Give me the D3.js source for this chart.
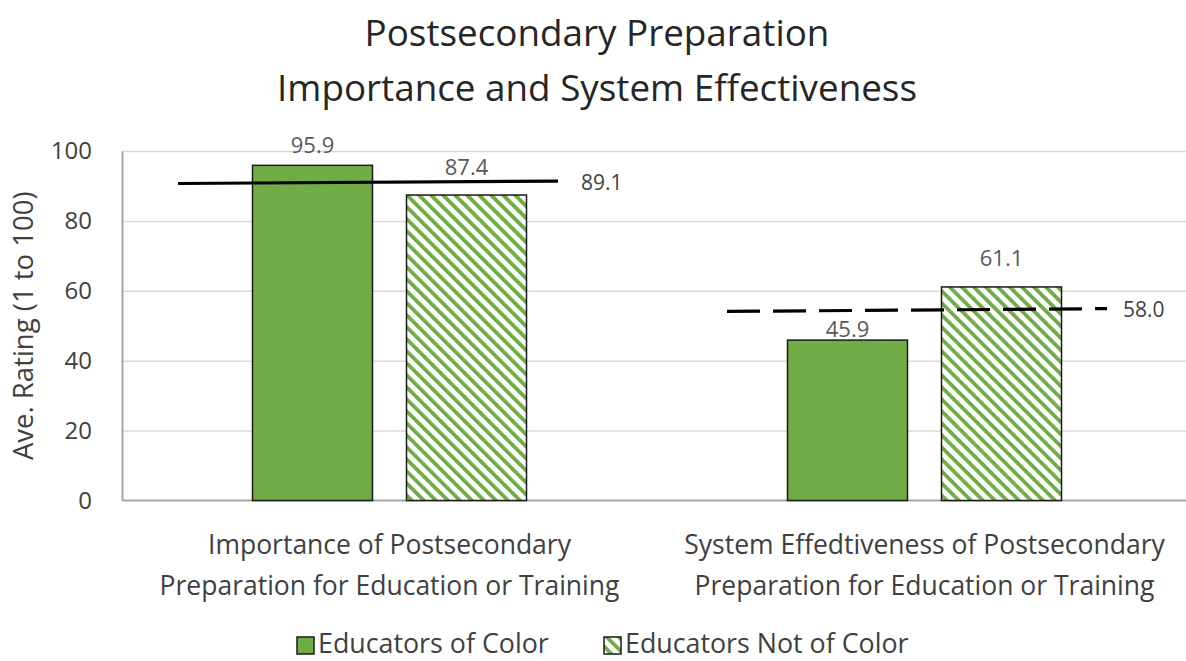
<!DOCTYPE html>
<html>
<head>
<meta charset="utf-8">
<script src="https://cdnjs.cloudflare.com/ajax/libs/d3/7.8.5/d3.min.js"></script>
<style>
  body { margin: 0; background: #fff; }
  svg { display: block; font-family: "Open Sans", sans-serif; }
</style>
</head>
<body>
<svg id="chart" width="1186" height="661"></svg>
<script>
// data
const categories = [
  'Importance of Postsecondary\nPreparation for Education or Training',
  'System Effedtiveness of Postsecondary\nPreparation for Education or Training'
]
const series = ['Educators of Color', 'Educators Not of Color']
const colorValues = [95.9, 45.9]
const notColorValues = [87.4, 61.1]
// overall line: label value, and where the line sits at its two ends
const overallLabels = [89.1, 58.0]
const overallStart = [90.7, 54.1]
const overallEnd = [91.4, 54.9]
const yTicks = [0, 20, 40, 60, 80, 100]

const svg = d3.select('#chart')
const plotLeft = 122, plotRight = 1192, plotTop = 151, plotBottom = 500.5
const green = '#70ad47'

const x = d3.scaleBand().domain(categories).range([plotLeft, plotRight]).padding(0)
const inner = d3.scaleBand().domain(series).range([-137, 137]).paddingInner(34 / 154)
const y = d3.scaleLinear().domain([0, 100]).range([plotBottom, plotTop])

// hatch pattern
const defs = svg.append('defs')
const pat = defs.append('pattern').attr('id', 'hatch')
  .attr('patternUnits', 'userSpaceOnUse')
  .attr('width', 8.5).attr('height', 8.5)
  .attr('patternTransform', 'rotate(-45)')
pat.append('rect').attr('width', 8.5).attr('height', 8.5).attr('fill', '#fff')
pat.append('rect').attr('width', 3.8).attr('height', 8.5).attr('fill', green)

// title
svg.append('text').attr('text-anchor', 'middle')
  .attr('font-size', 36.8).attr('fill', '#262626')
  .selectAll('tspan').data(['Postsecondary Preparation', 'Importance and System Effectiveness'])
  .join('tspan').attr('x', 597).attr('y', (d, i) => 46 + i * 55).text(d => d)

// gridlines
svg.append('g').attr('transform', `translate(${plotLeft},0)`)
  .call(d3.axisLeft(y).tickValues(yTicks.slice(1)).tickSize(-(plotRight - plotLeft)).tickFormat(''))
  .call(g => g.select('.domain').remove())
  .call(g => g.selectAll('line').attr('stroke', '#d9d9d9').attr('stroke-width', 1.5))

// y axis
svg.append('g').attr('transform', `translate(${plotLeft},0)`)
  .call(d3.axisLeft(y).tickValues(yTicks).tickSize(0).tickPadding(30))
  .call(g => g.select('.domain').attr('stroke', '#a6a6a6').attr('stroke-width', 2))
  .call(g => g.selectAll('text').attr('font-size', 24).attr('fill', '#404040')
    .attr('font-family', '"Open Sans", sans-serif'))

// bottom axis line
svg.append('line').attr('x1', plotLeft).attr('x2', plotRight).attr('y1', plotBottom).attr('y2', plotBottom)
  .attr('stroke', '#a6a6a6').attr('stroke-width', 2)

// y title
svg.append('text').attr('transform', `translate(33,${(plotTop + plotBottom) / 2}) rotate(-90)`)
  .attr('text-anchor', 'middle').attr('font-size', 27.5).attr('fill', '#404040')
  .text('Ave. Rating (1 to 100)')

// bars
const rows = categories.map((c, i) => [
  { cat: c, s: series[0], v: colorValues[i], gi: i },
  { cat: c, s: series[1], v: notColorValues[i], gi: i }
])
const labelGap = [[12, 20], [3, 21]]
const groups = svg.append('g').selectAll('g').data(rows).join('g')
  .attr('transform', d => `translate(${x(d[0].cat) + x.bandwidth() / 2},0)`)
groups.selectAll('rect').data(d => d).join('rect')
  .attr('x', d => inner(d.s)).attr('width', inner.bandwidth())
  .attr('y', d => y(d.v)).attr('height', d => y(0) - y(d.v))
  .attr('fill', d => d.s === series[0] ? green : 'url(#hatch)')
  .attr('stroke', '#1a1a1a').attr('stroke-width', 1.5)
groups.selectAll('text').data(d => d).join('text')
  .attr('x', d => inner(d.s) + inner.bandwidth() / 2)
  .attr('y', (d, j) => y(d.v) - labelGap[d.gi][j])
  .attr('text-anchor', 'middle').attr('font-size', 22).attr('fill', '#595959')
  .text(d => d3.format('.1f')(d.v))

// overall lines
const lineSpan = [[-211.5, 168.5], [-197.5, 182.5]]
categories.forEach((c, i) => {
  const cx = x(c) + x.bandwidth() / 2
  const x1 = cx + lineSpan[i][0], x2 = cx + lineSpan[i][1]
  svg.append('line').attr('x1', x1).attr('x2', x2)
    .attr('y1', y(overallStart[i])).attr('y2', y(overallEnd[i]))
    .attr('stroke', '#000').attr('stroke-width', 3.2)
    .attr('stroke-dasharray', i === 1 ? '33,13' : null)
  svg.append('text').attr('x', x2 + (i === 0 ? 23 : 16)).attr('y', y(overallEnd[i]) + 3)
    .attr('dominant-baseline', 'middle').attr('font-size', 21).attr('fill', '#404040')
    .text(d3.format('.1f')(overallLabels[i]))
})

// category labels
categories.forEach(c => {
  svg.append('text').attr('text-anchor', 'middle').attr('font-size', 26.5).attr('fill', '#404040')
    .selectAll('tspan').data(c.split('\n')).join('tspan')
    .attr('x', x(c) + x.bandwidth() / 2).attr('y', (d, i) => 554 + i * 41).text(d => d)
})

// legend
const legendX = [297, 604]
const leg = svg.append('g').selectAll('g').data(series).join('g')
  .attr('transform', (d, i) => `translate(${legendX[i]},637)`)
leg.append('rect').attr('width', 17).attr('height', 17)
  .attr('fill', (d, i) => i === 0 ? green : 'url(#hatch)')
  .attr('stroke', '#1a1a1a').attr('stroke-width', 1.5)
leg.append('text').attr('x', 21).attr('y', 16).attr('font-size', 26.8).attr('fill', '#404040')
  .text(d => d)
</script>
</body>
</html>
